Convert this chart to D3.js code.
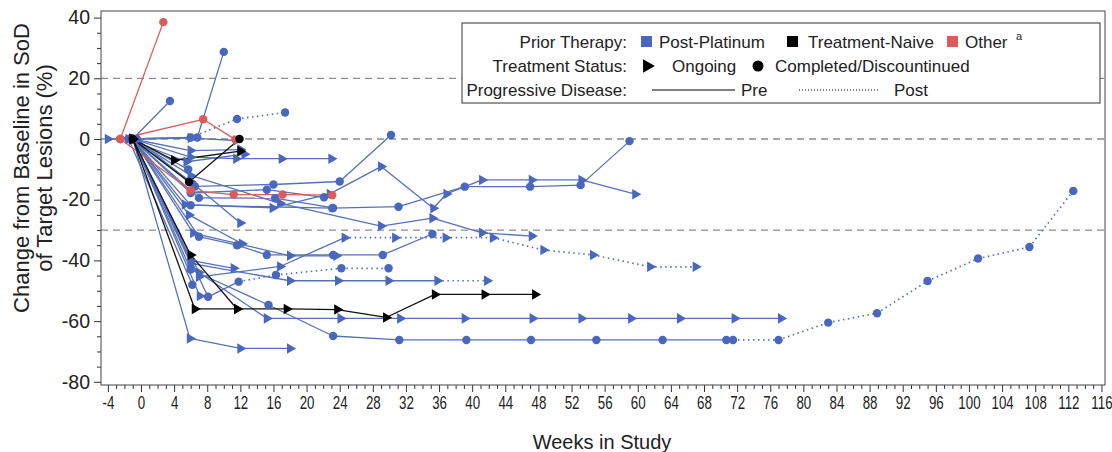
<!DOCTYPE html>
<html>
<head>
<meta charset="utf-8">
<script src="https://cdn.jsdelivr.net/npm/d3@7"></script>
<style>
  body { margin: 0; background: #fff; }
  svg { font-family: "Liberation Sans", Arial, sans-serif; }
</style>
</head>
<body>
<svg id="chart" width="1112" height="452"></svg>
<script>
// categories and axis values
const therapies = ["Post-Platinum", "Treatment-Naive", "Other"];
const xTickValues = [-4, 0, 4, 8, 12, 16, 20, 24, 28, 32, 36, 40, 44, 48, 52, 56, 60, 64, 68, 72, 76, 80, 84, 88, 92, 96, 100, 104, 108, 112, 116];
const yTickValues = [-80, -60, -40, -20, 0, 20, 40];
const refLines = [20, 0, -30];

// one entry per patient: prior therapy (index into therapies), ongoing?, weeks, % change,
// index of the visit from which the line is post-PD (-1 = never)
const patientTherapy = [0, 0, 0, 0, 0, 0, 0, 0, 0, 0, 0, 0, 0, 0, 0, 0, 0, 0, 0, 0, 0, 0, 0, 0, 0, 0, 0, 2, 2, 2, 1, 1, 1, 1];
const patientOngoing = [false, false, false, true, true, true, true, false, false, false, false, false, true, true, true, false, true, true, false, true, true, false, true, true, true, true, false, false, false, false, true, false, true, true];
const patientWeeks = [
  [-1, 3.5],
  [-1, 6.8, 10],
  [-1, 6, 11.6, 17.4],
  [-4, 6, 11.5],
  [-1, 6, 12],
  [-1, 6, 11.5, 17, 23],
  [-1.5, 5.5, 12.5],
  [-1, 5.7],
  [-0.5, 6.5, 16, 24, 30.2],
  [-1, 6, 15.2, 22.1],
  [-1, 7, 16.2, 23.2],
  [-1, 6, 23.1, 31.1, 39.1, 47, 53.1, 59],
  [-1, 5.3, 15.9, 22.8, 29, 35.3, 36.9, 41.2, 47.2, 53.2, 59.7],
  [-1, 6, 16.8, 29, 35.2, 41.2, 47.2],
  [-1, 6, 12],
  [-1, 7, 11.6, 15.2, 23.2, 29.2, 35.2],
  [-1, 6.3, 18, 23.6],
  [-1, 7, 16.8, 24.6, 30.7, 36.8, 42.5, 48.6, 54.6, 61.5, 67],
  [-1, 8.1, 11.8, 16.3, 24.2, 29.9],
  [-1, 6, 18, 23.8, 29.9, 35.8, 41.8],
  [-1, 6, 11.2],
  [-1, 6, 15.4, 23.2, 31.2, 39.3, 47.1, 55, 63, 70.7, 71.5, 77, 83, 88.9, 95, 101.1, 107.3, 112.6],
  [-1, 7, 15.2, 24.1, 31.3, 39.1, 47.3, 53.2, 59.2, 65.1, 71.7, 77.3],
  [-1, 5.9, 12, 18],
  [-1, 7.1],
  [-1, 5.8, 12.2],
  [-1.5, 6.2],
  [-2.5, 2.7],
  [-2.5, 7.5, 11.4],
  [-2.5, 6, 11.2, 17.1, 23.1],
  [-1, 4, 12],
  [-1, 5.8, 11.9],
  [-1, 6, 11.6],
  [-1, 6.5, 11.6, 17.6, 23.7, 29.6, 35.5, 41.5, 47.6]
];
const patientChange = [
  [0, 12.5],
  [0, 0.5, 28.7],
  [0, 0.5, 6.6, 8.7],
  [0, 0.3, -0.5],
  [0, -3.8, -3.5],
  [0, -6, -6.5, -6.5, -6.5],
  [0, -7.5, -5],
  [0, -10],
  [0, -15.6, -15, -14, 1.3],
  [0, -17.8, -16.7, -19.2],
  [0, -19.4, -19.5, -22.7],
  [0, -21.8, -22.8, -22.3, -15.7, -15.7, -15.2, -0.7],
  [0, -21.6, -22.7, -18.1, -9.1, -22.8, -18.1, -13.5, -13.5, -13.5, -18.2],
  [0, -12, -21.2, -28.7, -26.1, -30.9, -32],
  [0, -14, -27.7],
  [0, -32.2, -35, -38.2, -38.2, -38.2, -31.3],
  [0, -31, -38.5, -38.5],
  [0, -45.4, -42, -32.5, -32.5, -32.5, -32.5, -36.6, -38.2, -42.1, -42.1],
  [0, -52, -47, -44.8, -42.6, -42.6],
  [0, -41, -46.7, -46.7, -46.7, -46.7, -46.7],
  [0, -40, -42.6],
  [0, -43, -54.7, -64.9, -66.2, -66.2, -66.2, -66.2, -66.2, -66.2, -66.2, -66.2, -60.5, -57.4, -46.8, -39.4, -35.6, -17.1],
  [0, -44, -59.1, -59.1, -59.1, -59.1, -59.1, -59.1, -59.1, -59.1, -59.1, -59.1],
  [0, -65.7, -69, -69],
  [0, -51.7],
  [0, -25, -34.5],
  [0, -48],
  [0, 38.5],
  [0, 6.5, -0.2],
  [0, -17, -18.3, -18.3, -18.5],
  [0, -7, -4],
  [0, -14.2, 0],
  [0, -38.2, -56],
  [0, -56, -56, -56, -56.2, -58.8, -51.2, -51.2, -51.2]
];
const patientPostFrom = [-1, -1, 1, -1, -1, -1, -1, -1, -1, -1, -1, -1, -1, -1, -1, -1, -1, 3, 2, 5, -1, 10, -1, -1, -1, -1, -1, -1, -1, -1, -1, -1, -1, -1];

const svg = d3.select("#chart");

const x = d3.scaleLinear().domain([-4.83, 116.43]).range([101, 1105]);
const y = d3.scaleLinear().domain([-81.05, 42.17]).range([385, 11]);

const markColor = d3.scaleOrdinal().domain(therapies).range(["#4867bd", "#000000", "#d95c5a"]);
const lineColor = d3.scaleOrdinal().domain(therapies).range(["#5671b8", "#111111", "#d75e5c"]);

// reference lines
svg.selectAll(".ref")
  .data(refLines)
  .enter()
  .append("line")
  .attr("class", "ref")
  .attr("x1", 101).attr("x2", 1105)
  .attr("y1", d => y(d)).attr("y2", d => y(d))
  .attr("stroke", "#8c8c8c")
  .attr("stroke-width", 1.3)
  .attr("stroke-dasharray", "7,5");

// axes
const xAxis = d3.axisBottom(x).tickValues(xTickValues).tickSize(7).tickPadding(4).tickFormat(d => String(d));
const xMinor = d3.axisBottom(x).tickValues(d3.range(-4, 117, 1).filter(d => d % 4 !== 0)).tickSize(4).tickFormat("");
const yAxis = d3.axisLeft(y).tickValues(yTickValues).tickSize(7).tickPadding(4).tickFormat(d => String(d));
const yMinor = d3.axisLeft(y).tickValues(d3.range(-80, 41, 5).filter(d => d % 20 !== 0)).tickSize(4).tickFormat("");

const gx = svg.append("g").attr("transform", "translate(0,385)").call(xAxis);
svg.append("g").attr("transform", "translate(0,385)").call(xMinor);
const gy = svg.append("g").attr("transform", "translate(101,0)").call(yAxis);
svg.append("g").attr("transform", "translate(101,0)").call(yMinor);

svg.selectAll(".domain").remove();
svg.selectAll(".tick line").attr("stroke", "#333");

// condensed tick labels on the week axis
gx.selectAll("text")
  .attr("font-size", 18)
  .attr("fill", "#222")
  .attr("transform", "scale(0.74,1)");

gy.selectAll("text")
  .attr("font-size", 19.5)
  .attr("fill", "#222");

// frame
svg.append("rect")
  .attr("x", 101).attr("y", 11)
  .attr("width", 1004).attr("height", 374)
  .attr("fill", "none")
  .attr("stroke", "#444")
  .attr("stroke-width", 1);

// axis titles
svg.append("text")
  .attr("transform", "translate(29,168) rotate(-90)")
  .attr("text-anchor", "middle")
  .attr("font-size", 22)
  .attr("fill", "#222")
  .text("Change from Baseline in SoD");
svg.append("text")
  .attr("transform", "translate(52,168) rotate(-90)")
  .attr("text-anchor", "middle")
  .attr("font-size", 22)
  .attr("fill", "#222")
  .text("of Target Lesions (%)");
svg.append("text")
  .attr("x", 602).attr("y", 449)
  .attr("text-anchor", "middle")
  .attr("font-size", 20)
  .attr("fill", "#222")
  .text("Weeks in Study");

// patients
const patients = patientWeeks.map((w, i) => ({
  therapy: therapies[patientTherapy[i]],
  ongoing: patientOngoing[i],
  post: patientPostFrom[i],
  pts: w.map((wk, j) => [wk, patientChange[i][j]])
}));
const drawOrder = [0, 2, 1];
const ordered = drawOrder.flatMap(g => patients.filter(p => p.therapy === therapies[g]));

const segs = ordered.flatMap(p => p.pts.slice(1).map((pt, j) => ({
  therapy: p.therapy,
  a: p.pts[j],
  b: pt,
  post: p.post >= 0 && j >= p.post
})));

svg.append("g").selectAll("line")
  .data(segs)
  .enter()
  .append("line")
  .attr("x1", d => x(d.a[0])).attr("y1", d => y(d.a[1]))
  .attr("x2", d => x(d.b[0])).attr("y2", d => y(d.b[1]))
  .attr("stroke", d => lineColor(d.therapy))
  .attr("stroke-width", d => d.post ? 1.7 : 1.3)
  .attr("stroke-dasharray", d => d.post ? "1.5,3.5" : null);

const tri = d3.symbol().type(d3.symbolTriangle).size(48);
const dot = d3.symbol().type(d3.symbolCircle).size(56);

const marks = ordered.flatMap(p => p.pts.map(pt => ({ therapy: p.therapy, ongoing: p.ongoing, pt })));
svg.append("g").selectAll("path")
  .data(marks)
  .enter()
  .append("path")
  .attr("d", d => d.ongoing ? tri() : dot())
  .attr("transform", d => `translate(${x(d.pt[0])},${y(d.pt[1])})` + (d.ongoing ? " rotate(90)" : ""))
  .attr("fill", d => markColor(d.therapy));

// legend
const lg = svg.append("g").attr("font-size", 17).attr("fill", "#222");
lg.append("rect")
  .attr("x", 462).attr("y", 23).attr("width", 638).attr("height", 80)
  .attr("fill", "#fff").attr("stroke", "#333");

const rows = [
  { label: "Prior Therapy:", cy: 42 },
  { label: "Treatment Status:", cy: 66 },
  { label: "Progressive Disease:", cy: 90 }
];
lg.selectAll(".lbl")
  .data(rows)
  .enter()
  .append("text")
  .attr("x", 627).attr("y", d => d.cy + 6)
  .attr("text-anchor", "end")
  .text(d => d.label);

const sw = [
  { name: therapies[0], x: 641, tx: 659 },
  { name: therapies[1], x: 787, tx: 808 },
  { name: therapies[2], x: 947, tx: 965 }
];
lg.selectAll(".sw")
  .data(sw)
  .enter()
  .append("rect")
  .attr("x", d => d.x).attr("y", 36).attr("width", 11).attr("height", 11)
  .attr("fill", d => markColor(d.name));
lg.selectAll(".swt")
  .data(sw)
  .enter()
  .append("text")
  .attr("x", d => d.tx).attr("y", 48)
  .text(d => d.name);
lg.append("text").attr("x", 1016).attr("y", 40).attr("font-size", 11).text("a");

lg.append("path")
  .attr("d", d3.symbol().type(d3.symbolTriangle).size(80)())
  .attr("transform", "translate(647,66) rotate(90)")
  .attr("fill", "#000");
lg.append("text").attr("x", 672).attr("y", 72).text("Ongoing");
lg.append("circle").attr("cx", 758).attr("cy", 66).attr("r", 5.5).attr("fill", "#000");
lg.append("text").attr("x", 775).attr("y", 72).text("Completed/Discountinued");

lg.append("line").attr("x1", 652).attr("x2", 735).attr("y1", 90).attr("y2", 90)
  .attr("stroke", "#000").attr("stroke-width", 1);
lg.append("text").attr("x", 741).attr("y", 96).text("Pre");
lg.append("line").attr("x1", 799).attr("x2", 880).attr("y1", 90).attr("y2", 90)
  .attr("stroke", "#000").attr("stroke-width", 1).attr("stroke-dasharray", "1,2");
lg.append("text").attr("x", 894).attr("y", 96).text("Post");
</script>
</body>
</html>
